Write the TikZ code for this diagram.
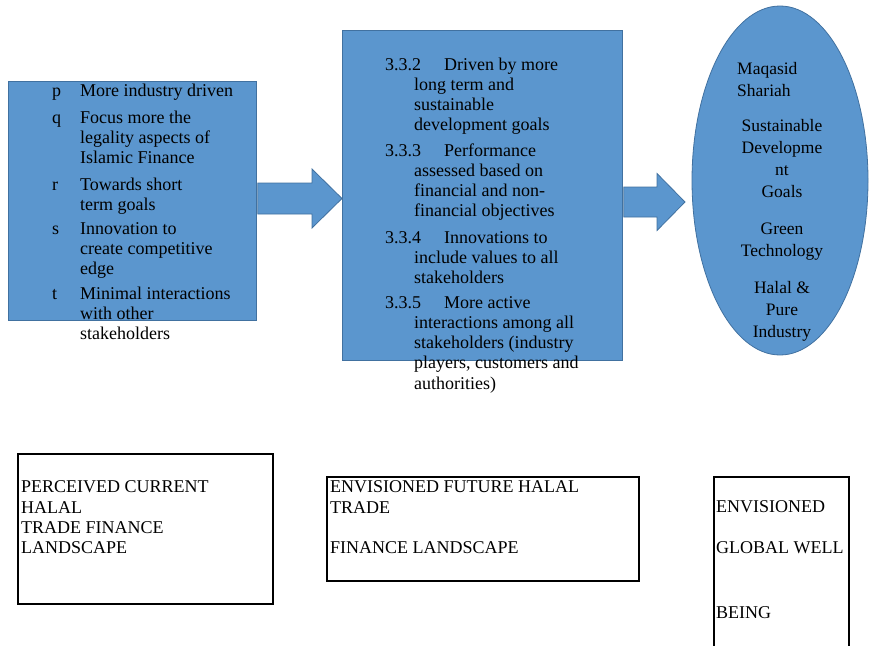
\documentclass[tikz,border=0pt]{standalone}
\usepackage{fontspec}
\setmainfont{Liberation Serif}
\usetikzlibrary{shapes.geometric,calc}

\definecolor{boxblue}{RGB}{91,150,206}
\definecolor{edgeblue}{RGB}{65,113,160}

% first line of a stack sits on the node's base
\newcommand{\leftlines}[1]{\begin{tabular}[t]{@{}l@{}}#1\end{tabular}}
\newcommand{\midlines}[1]{\begin{tabular}[t]{@{}c@{}}#1\end{tabular}}

\tikzset{
  bluebox/.style={draw=edgeblue, fill=boxblue, line width=0.8pt},
  item/.style={anchor=base west, inner sep=0pt,
    font=\fontsize{18}{20.3}\selectfont},
  oval/.style={anchor=base, inner sep=0pt,
    font=\fontsize{17.5}{22}\selectfont},
  frame/.style={draw=black, line width=1.6pt, anchor=north west, inner sep=0pt},
}

\begin{document}
\begin{tikzpicture}[x=1pt,y=-1pt]
  \useasboundingbox (0,0) rectangle (869,645);

  % blue shapes
  \node[bluebox, rectangle, anchor=north west, minimum width=248pt,
    minimum height=239pt] (current) at (8,81) {};
  \node[bluebox, rectangle, anchor=north west, minimum width=280pt,
    minimum height=330pt] (future) at (342,30) {};
  \node[bluebox, ellipse, inner sep=0pt, minimum width=176pt,
    minimum height=349pt] (wellbeing) at (780,180.5) {};

  % block arrows
  \coordinate (tail1) at ([xshift=1pt]current.east |- 0,198.5);
  \coordinate (tip1) at (future.west |- tail1);
  \filldraw[bluebox] (tail1) ++(0,-15.5) -| ($(tip1)+(-30,-29.5)$) -- (tip1)
    -- ++(-30,29.5) |- ($(tail1)+(0,15.5)$) -- cycle;
  \coordinate (tail2) at ([xshift=1pt]future.east |- 0,202);
  \coordinate (tip2) at (685,202);
  \filldraw[bluebox] (tail2) ++(0,-15) -| ($(tip2)+(-28,-28.5)$) -- (tip2)
    -- ++(-28,28.5) |- ($(tail2)+(0,15)$) -- cycle;

  % current landscape list
  \foreach \tag/\y/\txt in {
      p/96.7/{More industry driven},
      q/123/{Focus more the\\legality aspects of\\Islamic Finance},
      r/190/{Towards short\\term goals},
      s/234/{Innovation to\\create competitive\\edge},
      t/299/{Minimal interactions\\with other\\stakeholders}}
  {
    \node[item] (\tag) at (52,\y) {\tag};
    \node[item] (\tag-txt) at (80,\y) {\leftlines{\txt}};
  }

  % future landscape list (first line indented, the rest hangs)
  \foreach \num/\y/\first/\rest in {
      332/70/{Driven by more}/{long term and\\sustainable\\development goals},
      333/156/{Performance}/{assessed based on\\financial and non-\\financial objectives},
      334/243/{Innovations to}/{include values to all\\stakeholders},
      335/308/{More active}/{interactions among all\\stakeholders (industry\\players, customers and\\authorities)}}
  {
    \node[item] (n\num) at (385,\y) {3.3.\the\numexpr\num-330\relax};
    \node[item] (n\num-txt) at (444,\y) {\first};
    \node[item] (n\num-more) at (414,\y+20.3) {\leftlines{\rest}};
  }

  % goals in the oval
  \node[oval, anchor=base west] (maqasid) at (737,74) {\leftlines{Maqasid\\Shariah}};
  \node[oval] (sdg) at (782,131.7) {\midlines{Sustainable\\Developme\\nt\\Goals}};
  \node[oval] (green) at (782,234) {\midlines{Green\\Technology}};
  \node[oval] (halal) at (782,293) {\midlines{Halal \&\\Pure\\Industry}};

  % captions
  \node[frame, minimum width=255pt, minimum height=150pt] (capA) at (17,453) {};
  \node[frame, minimum width=312pt, minimum height=104pt] (capB) at (326,476) {};
  \node[frame, minimum width=135pt, minimum height=190pt] (capC) at (713,476) {};

  \node[item] (capA-txt) at (21,492.7)
    {\leftlines{PERCEIVED CURRENT\\HALAL\\TRADE FINANCE\\LANDSCAPE}};
  \node[item] (capB-txt) at (330,492.7)
    {\leftlines{ENVISIONED FUTURE HALAL\\TRADE\\ \\FINANCE LANDSCAPE}};
  \node[item] (capC-1) at (716,512.7) {ENVISIONED};
  \node[item] (capC-2) at (716,553) {GLOBAL WELL};
  \node[item] (capC-3) at (716,618) {BEING};
\end{tikzpicture}
\end{document}
